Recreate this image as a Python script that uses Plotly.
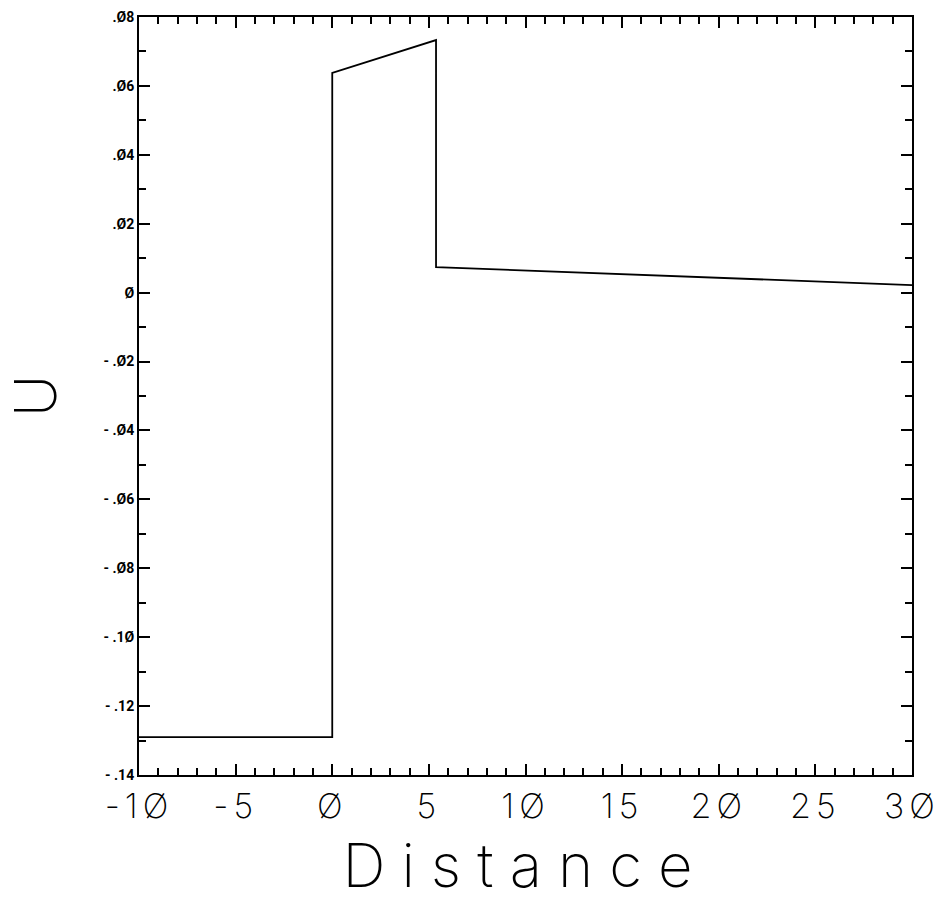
import plotly.graph_objects as go

# Profile of U along the distance axis
distance = [-10, 0, 0, 5.37, 5.37, 30]
u_value = [-0.129, -0.129, 0.0638, 0.0733, 0.0074, 0.0022]

x_tick_vals = [-10, -5, 0, 5, 10, 15, 20, 25, 30]
x_tick_text = ["-1Ø", "-5", "Ø", "5", "1Ø", "15", "2Ø", "25", "3Ø"]
y_tick_vals = [0.08, 0.06, 0.04, 0.02, 0, -0.02, -0.04, -0.06, -0.08, -0.10, -0.12, -0.14]
y_tick_text = [".Ø8", ".Ø6", ".Ø4", ".Ø2", "Ø", "- .Ø2", "- .Ø4", "- .Ø6", "- .Ø8",
               "- .1Ø", "- .12", "- .14"]

fig = go.Figure()
fig.add_trace(go.Scatter(
    x=distance, y=u_value, mode="lines",
    line=dict(color="black", width=1.8), showlegend=False,
))

thin_font = dict(family="Inter, DejaVu Sans, sans-serif", color="black", weight=200)

tick_style = dict(
    showgrid=False, zeroline=False, automargin=False,
    showline=True, linecolor="black", linewidth=2, mirror="allticks",
    ticks="inside", ticklen=11, tickwidth=2, tickcolor="black",
)

fig.update_layout(
    width=939, height=902,
    margin=dict(l=139, r=27, t=17, b=127),
    paper_bgcolor="white", plot_bgcolor="white",
    xaxis=dict(
        range=[-10, 30], **tick_style,
        tickvals=x_tick_vals, ticktext=x_tick_text,
        tickfont=dict(size=34, **thin_font),
        minor=dict(dtick=1, ticks="inside", ticklen=7, tickwidth=1.6, tickcolor="black"),
        title=dict(text="Distance", font=dict(size=60, **thin_font), standoff=20),
    ),
    yaxis=dict(
        range=[-0.14, 0.08], **tick_style,
        tickvals=y_tick_vals, ticktext=y_tick_text,
        tickfont=dict(family="Roboto, DejaVu Sans, sans-serif", size=14, color="black", weight=700),
        minor=dict(dtick=0.01, ticks="inside", ticklen=7, tickwidth=1.6, tickcolor="black"),
        title=dict(text="U", font=dict(size=58, **thin_font), standoff=36),
    ),
)

spacing_js = """
var gd = document.getElementById('{plot_id}');
function spread() {
  gd.querySelectorAll('.xtitle').forEach(function (t) { t.style.letterSpacing = '16px'; });
  gd.querySelectorAll('.xtick text').forEach(function (t) { t.style.letterSpacing = '5px'; });
}
spread();
gd.on('plotly_afterplot', spread);
"""

fig.write_html("out.html", post_script=spacing_js)
